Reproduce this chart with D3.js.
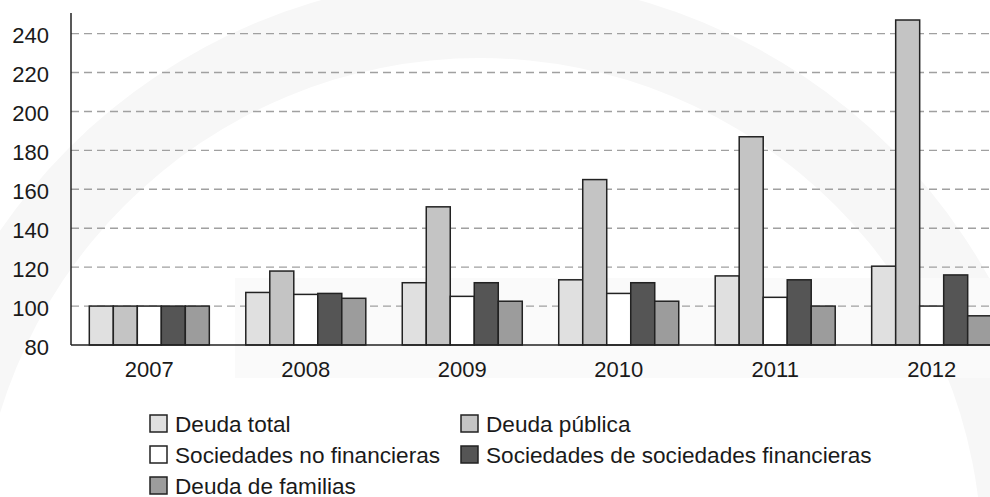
<!DOCTYPE html>
<html>
<head>
<meta charset="utf-8">
<script src="https://cdn.jsdelivr.net/npm/d3@7"></script>
<style>
  body { margin: 0; background: #fff; }
  svg text { font-family: "Liberation Sans", Arial, sans-serif; fill: #1a1a1a; }
</style>
</head>
<body>
<div id="chart"></div>
<script>
const years = ["2007", "2008", "2009", "2010", "2011", "2012"];
const seriesNames = [
  "Deuda total",
  "Deuda pública",
  "Sociedades no financieras",
  "Sociedades de sociedades financieras",
  "Deuda de familias",
];
const deudaTotal = [100, 107, 112, 113.5, 115.5, 120.5];
const deudaPublica = [100, 118, 151, 165, 187, 247];
const sociedadesNoFin = [100, 106, 105, 106.5, 104.5, 100];
const sociedadesFin = [100, 106.5, 112, 112, 113.5, 116];
const deudaFamilias = [100, 104, 102.5, 102.5, 100, 95];
const yTicks = [80, 100, 120, 140, 160, 180, 200, 220, 240];

const seriesValues = [deudaTotal, deudaPublica, sociedadesNoFin, sociedadesFin, deudaFamilias];
const colors = ["#e0e0e0", "#c4c4c4", "#ffffff", "#555555", "#9c9c9c"];

const width = 990;
const height = 497;
const plotLeft = 71;
const plotTop = 13;
const plotBottom = 345;

const svg = d3
  .select("#chart")
  .append("svg")
  .attr("width", width)
  .attr("height", height);

// faint watermark behind the chart
const arc = d3.arc().innerRadius(502).outerRadius(582).startAngle(-Math.PI).endAngle(Math.PI);
svg.append("path").attr("d", arc()).attr("transform", "translate(480,560)").attr("fill", "#f7f7f7");
svg.append("rect").attr("x", 235).attr("y", 278).attr("width", 755).attr("height", 100).attr("fill", "#fafafa");

const y = d3.scaleLinear().domain([80, 250.6]).range([plotBottom, plotTop]);

const x0 = d3
  .scaleBand()
  .domain(years)
  .range([plotLeft, 1010])
  .paddingInner(0.233)
  .paddingOuter(0.117);

const x1 = d3.scaleBand().domain(seriesNames).range([0, x0.bandwidth()]);

// dashed gridlines
svg
  .append("g")
  .selectAll("line")
  .data(yTicks.filter((d) => d > 80))
  .enter()
  .append("line")
  .attr("x1", plotLeft)
  .attr("x2", width)
  .attr("y1", (d) => y(d))
  .attr("y2", (d) => y(d))
  .attr("stroke", "#a0a0a0")
  .attr("stroke-width", 1.4)
  .attr("stroke-dasharray", "8,5");

const rows = [];
years.forEach((yr, i) => {
  seriesNames.forEach((s, j) => {
    rows.push({ year: yr, series: s, value: seriesValues[j][i], color: colors[j] });
  });
});

svg
  .append("g")
  .selectAll("rect")
  .data(rows)
  .enter()
  .append("rect")
  .attr("x", (d) => x0(d.year) + x1(d.series))
  .attr("y", (d) => y(d.value))
  .attr("width", x1.bandwidth())
  .attr("height", (d) => y(80) - y(d.value))
  .attr("fill", (d) => d.color)
  .attr("stroke", "#222")
  .attr("stroke-width", 1.5);

// axes
const yAxis = d3.axisLeft(y).tickValues(yTicks).tickSize(0).tickPadding(22);
svg
  .append("g")
  .attr("transform", `translate(${plotLeft},0)`)
  .call(yAxis)
  .call((g) => g.select(".domain").remove())
  .selectAll("text")
  .attr("dy", "0.42em")
  .style("font-size", "22px")
  .attr("fill", "#1a1a1a");

const xAxis = d3.axisBottom(x0).tickSize(0).tickPadding(16);
svg
  .append("g")
  .attr("transform", `translate(0,${plotBottom})`)
  .call(xAxis)
  .call((g) => g.select(".domain").remove())
  .selectAll("text")
  .style("font-size", "22px")
  .attr("fill", "#1a1a1a");

svg
  .append("line")
  .attr("x1", plotLeft)
  .attr("x2", plotLeft)
  .attr("y1", plotTop)
  .attr("y2", plotBottom)
  .attr("stroke", "#222")
  .attr("stroke-width", 1.5);

svg
  .append("line")
  .attr("x1", plotLeft)
  .attr("x2", width)
  .attr("y1", plotBottom)
  .attr("y2", plotBottom)
  .attr("stroke", "#222")
  .attr("stroke-width", 1.5);

// legend
const legendPos = [
  [150, 415],
  [461, 415],
  [150, 446],
  [461, 446],
  [150, 477],
];

const legend = svg
  .append("g")
  .selectAll("g")
  .data(seriesNames)
  .enter()
  .append("g")
  .attr("transform", (d, i) => `translate(${legendPos[i][0]},${legendPos[i][1]})`);

legend
  .append("rect")
  .attr("width", 17)
  .attr("height", 17)
  .attr("fill", (d, i) => colors[i])
  .attr("stroke", "#222")
  .attr("stroke-width", 1.5);

legend
  .append("text")
  .attr("x", 25)
  .attr("y", 16.5)
  .style("font-size", "22.6px")
  .text((d) => d);
</script>
</body>
</html>
